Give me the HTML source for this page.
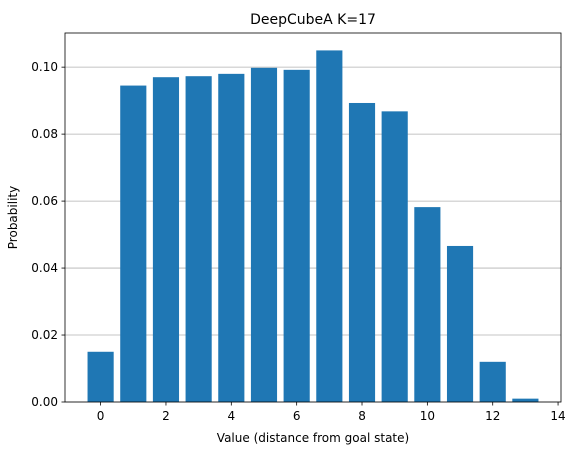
<!DOCTYPE html>
<html><head><meta charset="utf-8"><style>
body{margin:0;background:#fff;font-family:"Liberation Sans","DejaVu Sans",sans-serif;}
svg text{font-family:"DejaVu Sans","Liberation Sans",sans-serif;fill:#000;}
</style></head><body>
<svg id="chart" width="568" height="455" xmlns="http://www.w3.org/2000/svg">
<rect width="568" height="455" fill="#fff"/>
<g id="grid"></g><g id="bars"></g><g id="axes"></g>
</svg>
<script>
const categories=[0,1,2,3,4,5,6,7,8,9,10,11,12,13];
const probabilities=[0.015,0.0945,0.097,0.0973,0.098,0.0998,0.0992,0.105,0.0893,0.0868,0.0582,0.0466,0.012,0.001];
const xTicks=[0,2,4,6,8,10,12,14];
const yTicks=[0,0.02,0.04,0.06,0.08,0.10];
const yTickLabels=["0.00","0.02","0.04","0.06","0.08","0.10"];
const L=65,R=561,T=33,B=402;
const xMin=-1.09,xMax=14.09,yMax=0.1102;
const X=v=>L+(v-xMin)/(xMax-xMin)*(R-L);
const Y=v=>B-v/yMax*(B-T);
const NS="http://www.w3.org/2000/svg";
function mk(tag,attrs,parent,txt){const e=document.createElementNS(NS,tag);for(const k in attrs)e.setAttribute(k,attrs[k]);if(txt!==undefined)e.textContent=txt;parent.appendChild(e);return e;}
const grid=document.getElementById('grid'),bars=document.getElementById('bars'),axes=document.getElementById('axes');
yTicks.forEach((t,i)=>{
 const y=Y(t);
 const g=mk('line',{x1:L,x2:R,y1:y,y2:y,stroke:'#b0b0b0','stroke-width':0.8},grid);
 
 
 mk('line',{x1:L-3.5,x2:L,y1:y,y2:y,stroke:'#000','stroke-width':0.8},axes);
 const tx=mk('text',{x:L-7,y:y+4,'text-anchor':'end','font-size':12},axes,yTickLabels[i]);
 
 
});
categories.forEach((c,i)=>{
 const x1=X(c-0.4),x2=X(c+0.4);
 const r=mk('rect',{x:x1,y:Y(probabilities[i]),width:x2-x1,height:B-Y(probabilities[i]),fill:'#1f77b4'},bars);
 
 
});
xTicks.forEach(t=>{
 const x=X(t);
 mk('line',{x1:x,x2:x,y1:B,y2:B+3.5,stroke:'#000','stroke-width':0.8},axes);
 const tx=mk('text',{x:x,y:B+18,'text-anchor':'middle','font-size':12},axes,String(t));
 
 
});
const fr=mk('rect',{x:L,y:T,width:R-L,height:B-T,fill:'none',stroke:'#000','stroke-width':0.8},axes);


const ti=mk('text',{x:(L+R)/2,y:24,'text-anchor':'middle','font-size':14},axes,'DeepCubeA K=17');


const xl=mk('text',{x:(L+R)/2,y:442,'text-anchor':'middle','font-size':12},axes,'Value (distance from goal state)');


const yl=mk('text',{x:17,y:(T+B)/2,'text-anchor':'middle','font-size':12,transform:'rotate(-90 17 '+((T+B)/2)+')'},axes,'Probability');


</script>
</body></html>
